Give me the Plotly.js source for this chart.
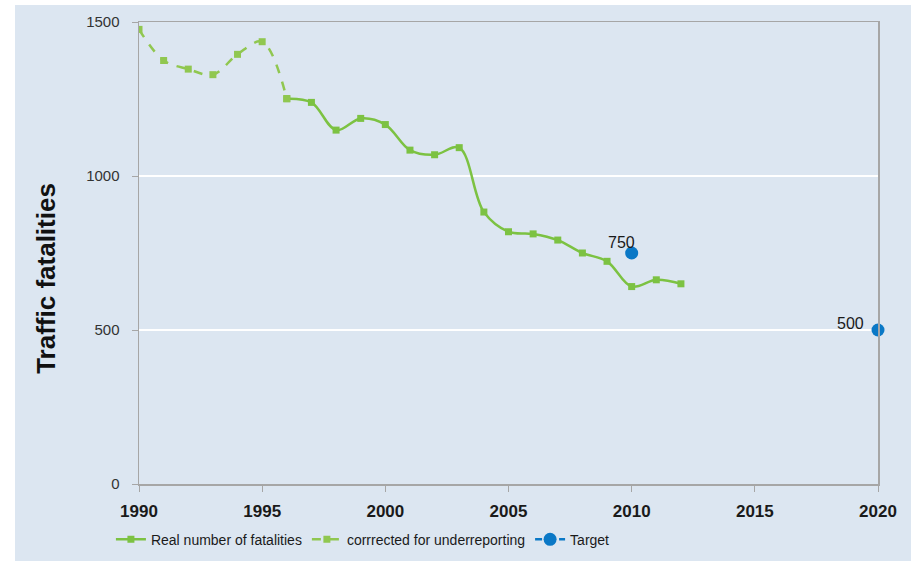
<!DOCTYPE html>
<html>
<head>
<meta charset="utf-8">
<script src="https://cdn.plot.ly/plotly-3.0.1.min.js"></script>
<style>
  html, body { margin: 0; padding: 0; background: #ffffff; width: 913px; height: 561px; overflow: hidden; }
  #chart { position: absolute; left: 15px; top: 5px; width: 896px; height: 556px; }
</style>
</head>
<body>
<div id="chart"></div>
<script>
const yearsCorrected = [1990, 1991, 1992, 1993, 1994, 1995, 1996];
const corrected = [1476, 1375, 1347, 1329, 1395, 1436, 1251];

const yearsReal = [1996, 1997, 1998, 1999, 2000, 2001, 2002, 2003, 2004, 2005, 2006, 2007, 2008, 2009, 2010, 2011, 2012];
const real = [1251, 1239, 1149, 1187, 1167, 1084, 1069, 1092, 883, 819, 812, 792, 750, 723, 641, 663, 650];

const yearsTarget = [2010, null, 2020];
const target = [750, null, 500];
const targetLabels = ['750', '', '500'];

const xTicks = [1990, 1995, 2000, 2005, 2010, 2015, 2020];
const yTicks = [0, 500, 1000, 1500];

const sans = '"Liberation Sans", Arial, sans-serif';

const traces = [
  {
    x: yearsReal, y: real, name: 'Real number of fatalities',
    mode: 'lines+markers', type: 'scatter',
    line: { color: '#7cc242', width: 2.5, shape: 'spline', smoothing: 1 },
    marker: { symbol: 'square', size: 7, color: '#7cc242' }
  },
  {
    x: yearsCorrected, y: corrected, name: 'corrrected for underreporting',
    mode: 'lines+markers', type: 'scatter',
    line: { color: '#90c750', width: 2.5, dash: 'dash', shape: 'spline', smoothing: 1 },
    marker: { symbol: 'square', size: 7, color: '#90c750' }
  },
  {
    x: yearsTarget, y: target, name: 'Target',
    mode: 'lines+markers', type: 'scatter', connectgaps: false,
    line: { color: '#0a78c6', width: 2.5, dash: '7px,5px' },
    marker: { symbol: 'circle', size: 13, color: '#0a78c6' },
    cliponaxis: false
  }
];

const labelShifts = [[-10, 11], null, [-28, 7]];
const targetAnnotations = [];
yearsTarget.forEach((yr, i) => {
  if (yr === null) return;
  targetAnnotations.push({
    x: yr, y: target[i], xref: 'x', yref: 'y', text: targetLabels[i],
    showarrow: false, xanchor: 'center', yanchor: 'middle',
    xshift: labelShifts[i][0], yshift: labelShifts[i][1],
    font: { family: sans, size: 16, color: '#1a1a1a' }
  });
});

const layout = {
  width: 896, height: 556,
  margin: { l: 124, r: 33, t: 17, b: 77, autoexpand: false },
  paper_bgcolor: '#dce6f1',
  plot_bgcolor: '#dce6f1',
  showlegend: true,
  legend: {
    orientation: 'h', x: -0.038, xanchor: 'left', y: -0.086, yanchor: 'top',
    font: { family: sans, size: 14, color: '#1a1a1a' },
    bgcolor: 'rgba(0,0,0,0)', traceorder: 'normal', itemwidth: 30
  },
  xaxis: {
    range: [1990, 2020], tickvals: xTicks, ticktext: xTicks.map(String),
    showgrid: false, zeroline: false,
    showline: true, linecolor: '#a6a6a6', linewidth: 1.5, mirror: true,
    ticks: 'outside', ticklen: 6, tickcolor: '#a6a6a6', tickwidth: 1,
    ticklabelstandoff: 5,
    tickfont: { family: sans, size: 17, color: '#1a1a1a', weight: 'bold' }
  },
  yaxis: {
    range: [0, 1500], tickvals: yTicks, ticktext: yTicks.map(String),
    showgrid: true, gridcolor: '#ffffff', gridwidth: 1.2, zeroline: false,
    showline: true, linecolor: '#a6a6a6', linewidth: 1.5, mirror: true,
    ticks: 'outside', ticklen: 6, tickcolor: '#a6a6a6', tickwidth: 1,
    ticklabelstandoff: 9,
    tickfont: { family: sans, size: 15, color: '#333333' }
  },
  annotations: [
    {
      text: 'Traffic fatalities', xref: 'paper', yref: 'paper',
      x: -0.126, y: 0.446, xanchor: 'center', yanchor: 'middle',
      textangle: -90, showarrow: false,
      font: { family: sans, size: 26, color: '#111111', weight: 'bold' }
    }
  ].concat(targetAnnotations)
};

Plotly.newPlot('chart', traces, layout, { displayModeBar: false, staticPlot: true });
</script>
</body>
</html>
